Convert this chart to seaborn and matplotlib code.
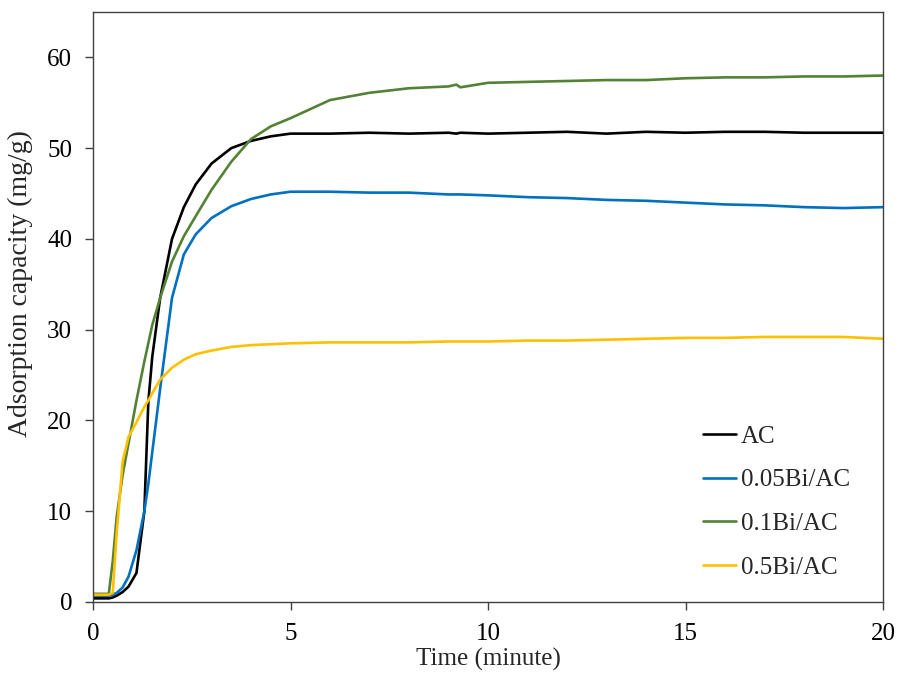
import pandas as pd
import matplotlib
matplotlib.use("Agg")
import matplotlib.pyplot as plt
import seaborn as sns

# time grid (minutes)
time = [0, 0.4, 0.5, 0.6, 0.75, 0.9, 1.1, 1.3, 1.4, 1.5, 1.7, 2.0, 2.3, 2.6, 3.0, 3.5,
        4.0, 4.5, 5, 6, 7, 8, 9, 9.2, 9.3, 10, 11, 12, 13, 14, 15, 16, 17, 18, 19, 20]

ac = [0.4, 0.4, 0.5, 0.7, 1.1, 1.7, 3.2, 10, 22, 27, 33.5, 40, 43.5, 46, 48.3, 50,
      50.8, 51.3, 51.6, 51.6, 51.7, 51.6, 51.7, 51.6, 51.7, 51.6, 51.7, 51.8, 51.6, 51.8,
      51.7, 51.8, 51.8, 51.7, 51.7, 51.7]
bi005 = [0.7, 0.7, 0.8, 1.0, 1.6, 2.8, 5.7, 10, 13, 16.5, 23.5, 33.5, 38.3, 40.5, 42.3, 43.6,
         44.4, 44.9, 45.2, 45.2, 45.1, 45.1, 44.9, 44.9, 44.9, 44.8, 44.6, 44.5, 44.3, 44.2,
         44.0, 43.8, 43.7, 43.5, 43.4, 43.5]
bi01 = [0.9, 0.9, 4.5, 9.4, 14, 17.5, 22.2, 26.5, 28.5, 30.5, 33.5, 37.5, 40.3, 42.5, 45.4, 48.5,
        51, 52.4, 53.3, 55.3, 56.1, 56.6, 56.8, 57.0, 56.7, 57.2, 57.3, 57.4, 57.5, 57.5,
        57.7, 57.8, 57.8, 57.9, 57.9, 58.0]
bi05 = [0.8, 0.8, 1.0, 7.6, 15.5, 18.2, 19.8, 21.5, 22.2, 23, 24.5, 25.8, 26.7, 27.3, 27.7, 28.1,
        28.3, 28.4, 28.5, 28.6, 28.6, 28.6, 28.7, 28.7, 28.7, 28.7, 28.8, 28.8, 28.9, 29.0,
        29.1, 29.1, 29.2, 29.2, 29.2, 29.0]

labels = ["AC", "0.05Bi/AC", "0.1Bi/AC", "0.5Bi/AC"]
colors = ["#000000", "#0070C0", "#548235", "#FFC000"]

frames = []
for lab, vals in zip(labels, [ac, bi005, bi01, bi05]):
    frames.append(pd.DataFrame({"time": time, "q": vals, "sample": lab}))
data = pd.concat(frames, ignore_index=True)

sns.set_style("ticks")
plt.rcParams["font.family"] = ["Liberation Serif", "DejaVu Serif"]

fig = plt.figure(figsize=(8.99, 6.75), dpi=100)
ax = fig.add_axes([93 / 899, 1 - 602 / 675, (883 - 93) / 899, (602 - 12) / 675])

sns.lineplot(data=data, x="time", y="q", hue="sample", palette=dict(zip(labels, colors)),
             linewidth=1.9, ax=ax, legend=True)

ax.set_xlim(0, 20)
ax.set_ylim(0, 65)
ax.set_xticks([0, 5, 10, 15, 20])
ax.set_yticks(range(0, 61, 10))
ax.tick_params(labelsize=18, direction="out", length=6, width=1, colors="#404040",
               labelcolor="black")
ax.tick_params(axis="x", pad=9)
ax.tick_params(axis="y", pad=9)
ax.set_xlabel("Time (minute)", fontsize=18, labelpad=2)
ax.set_ylabel("Adsorption capacity (mg/g)", fontsize=20)
ax.yaxis.set_label_coords(-0.076, 0.54)
for s in ax.spines.values():
    s.set_color("#404040")
    s.set_linewidth(1)

ax.legend(frameon=False, fontsize=18, handlelength=1.3, handletextpad=0.2,
          labelspacing=0.85, loc="center left", borderpad=0, borderaxespad=0,
          bbox_to_anchor=(703 / 899, 1 - 502 / 675), bbox_transform=fig.transFigure)

fig.savefig("out.png", dpi=100)
